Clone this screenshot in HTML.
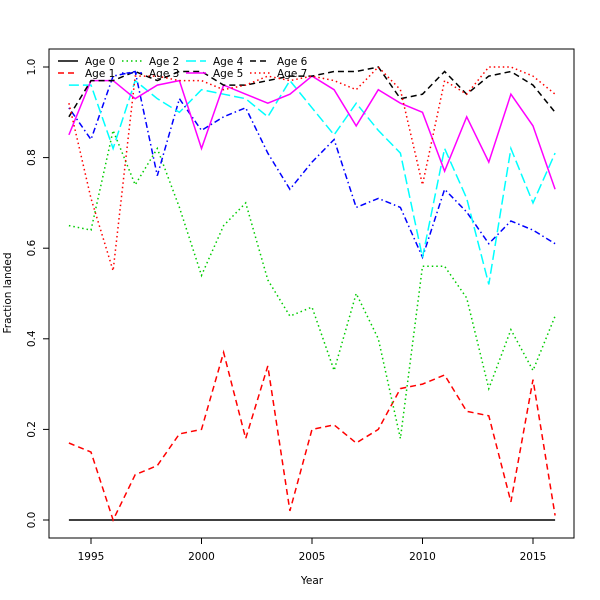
<!DOCTYPE html>
<html><head><meta charset="utf-8"><style>body{margin:0;background:#fff}svg{display:block}text{font-family:"DejaVu Sans","Liberation Sans",sans-serif;fill:#000}</style></head>
<body>
<svg id="s" width="600" height="600" xmlns="http://www.w3.org/2000/svg"></svg>
<script>
const s=document.getElementById('s');
const X=y=>91+(y-1995)*22.1, Y=v=>520-v*453;
let h='<rect x="49" y="49" width="525" height="489" fill="none" stroke="#000"/>';
[1995,2000,2005,2010,2015].forEach(y=>{h+=`<line x1="${X(y)}" y1="538" x2="${X(y)}" y2="544" stroke="#000"/><text x="${X(y)}" y="560" font-size="10.5" text-anchor="middle">${y}</text>`});
[0,0.2,0.4,0.6,0.8,1.0].forEach(v=>{h+=`<line x1="43" y1="${Y(v)}" x2="49" y2="${Y(v)}" stroke="#000"/><text transform="translate(35,${Y(v)}) rotate(-90)" font-size="10.5" text-anchor="middle">${v.toFixed(1)}</text>`});
h+='<text x="312" y="584" font-size="10.5" text-anchor="middle">Year</text><text transform="translate(11,293) rotate(-90)" font-size="10.5" text-anchor="middle">Fraction landed</text>';
const D=[
[0,0,0,0,0,0,0,0,0,0,0,0,0,0,0,0,0,0,0,0,0,0,0],
[0.17,0.15,0.0,0.10,0.12,0.19,0.20,0.37,0.18,0.34,0.02,0.20,0.21,0.17,0.20,0.29,0.30,0.32,0.24,0.23,0.04,0.31,0.01],
[0.65,0.64,0.86,0.74,0.82,0.69,0.54,0.65,0.70,0.53,0.45,0.47,0.33,0.50,0.40,0.18,0.56,0.56,0.49,0.29,0.42,0.33,0.45],
[0.91,0.84,0.98,0.99,0.76,0.93,0.86,0.89,0.91,0.81,0.73,0.79,0.84,0.69,0.71,0.69,0.58,0.73,0.68,0.61,0.66,0.64,0.61],
[0.96,0.96,0.82,0.97,0.93,0.90,0.95,0.94,0.93,0.89,0.97,0.91,0.85,0.92,0.86,0.81,0.58,0.82,0.71,0.52,0.82,0.70,0.81],
[0.85,0.97,0.97,0.93,0.96,0.97,0.82,0.96,0.94,0.92,0.94,0.98,0.95,0.87,0.95,0.92,0.90,0.77,0.89,0.79,0.94,0.87,0.73],
[0.89,0.97,0.97,0.99,0.97,0.99,0.99,0.96,0.96,0.97,0.98,0.98,0.99,0.99,1.00,0.93,0.94,0.99,0.94,0.98,0.99,0.96,0.90],
[0.92,0.71,0.55,0.98,0.98,0.97,0.97,0.95,0.96,0.98,0.97,0.98,0.97,0.95,1.00,0.95,0.74,0.97,0.94,1.00,1.00,0.98,0.94]];
const C=['#000','#f00','#0c0','#00f','#0ff','#f0f','#000','#f00'];
const L=['','6 4','1.5 3','1.5 3 6 3','10 4','','6 4','1.5 3'];
D.forEach((d,i)=>{h+=`<polyline fill="none" stroke="${C[i]}" stroke-width="1.5" stroke-dasharray="${L[i]}" points="${d.map((v,j)=>X(1994+j).toFixed(1)+','+Y(v).toFixed(1)).join(' ')}"/>`});
for(let i=0;i<8;i++){const c=Math.floor(i/2),r=i%2,x=58+c*64,y=61+r*12;
h+=`<line x1="${x}" y1="${y}" x2="${x+20}" y2="${y}" stroke="${C[i]}" stroke-width="1.5" stroke-dasharray="${L[i]}"/><text x="${x+27}" y="${y+4}" font-size="10.5">Age ${i}</text>`}
s.innerHTML=h;
</script>
</body></html>
